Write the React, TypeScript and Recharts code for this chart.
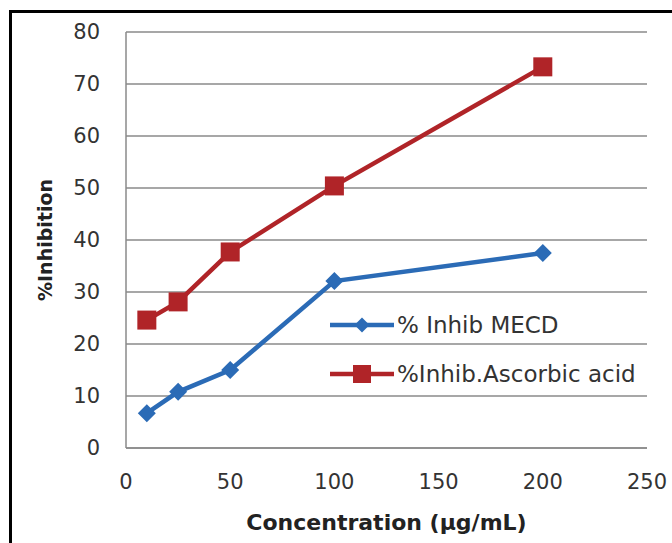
import React from 'react';
import { LineChart, Line, XAxis, YAxis, CartesianGrid, Label } from 'recharts';

const concentrations = [10, 25, 50, 100, 200];
const inhibMECD = [6.7, 10.8, 15.0, 32.1, 37.5];
const inhibAscorbic = [24.6, 28.1, 37.7, 50.4, 73.3];
const xTicks = [0, 50, 100, 150, 200, 250];
const yTicks = [0, 10, 20, 30, 40, 50, 60, 70, 80];

const BLUE = '#2b6bb6';
const RED = '#b02428';
const FONT = '"DejaVu Sans", Verdana, sans-serif';

const data = concentrations.map((c, i) => ({
  conc: c,
  mecd: inhibMECD[i],
  ascorbic: inhibAscorbic[i],
}));

const Diamond = (props: any) => {
  const { cx, cy, fill, r = 9 } = props;
  if (cx == null || cy == null) return null;
  return <polygon points={`${cx},${cy - r} ${cx + r},${cy} ${cx},${cy + r} ${cx - r},${cy}`} fill={fill} />;
};

const Square = (props: any) => {
  const { cx, cy, fill, s = 19 } = props;
  if (cx == null || cy == null) return null;
  return <rect x={cx - s / 2} y={cy - s / 2} width={s} height={s} fill={fill} />;
};

const legendRows = [
  { name: '% Inhib MECD', color: BLUE, marker: 'diamond' },
  { name: '%Inhib.Ascorbic acid', color: RED, marker: 'square' },
];

// legend drawn as an overlay so it does not steal space from the plot
const LegendBox = () => (
  <div style={{ position: 'absolute', left: 330, top: 300, fontFamily: FONT, fontSize: 23, color: '#333' }}>
    {legendRows.map((row) => (
      <div key={row.name} style={{ display: 'flex', alignItems: 'center', height: 49 }}>
        <svg width={64} height={22} style={{ marginRight: 3 }}>
          <line x1={0} y1={11} x2={64} y2={11} stroke={row.color} strokeWidth={4.5} />
          {row.marker === 'diamond' ? (
            <Diamond cx={32} cy={11} r={7.5} fill={row.color} />
          ) : (
            <Square cx={32} cy={11} s={18} fill={row.color} />
          )}
        </svg>
        <span style={{ whiteSpace: 'nowrap' }}>{row.name}</span>
      </div>
    ))}
  </div>
);

export default function App() {
  return (
    <div style={{ position: 'fixed', left: 0, top: 0, width: 672, height: 543, overflow: 'hidden', background: '#fff' }}>
      <div
        style={{
          position: 'absolute',
          left: 9,
          top: 10,
          width: 700,
          height: 600,
          borderLeft: '3px solid #000',
          borderTop: '3px solid #000',
        }}
      />
      <div style={{ position: 'absolute', left: 0, top: 0 }}>
        <LineChart width={672} height={543} data={data} margin={{ top: 32, right: 25, left: 45, bottom: 13 }}>
          <CartesianGrid vertical={false} stroke="#8a8a8a" strokeWidth={1.5} />
          <XAxis
            dataKey="conc"
            type="number"
            domain={[0, 250]}
            ticks={xTicks}
            tickLine={false}
            axisLine={{ stroke: '#8a8a8a', strokeWidth: 1.5 }}
            tick={{ fill: '#333', fontSize: 21, fontFamily: FONT }}
            tickMargin={20}
            height={82}
          >
            <Label
              value="Concentration (µg/mL)"
              position="insideBottom"
              offset={0}
              style={{ fill: '#222', fontSize: 22, fontWeight: 'bold', fontFamily: FONT }}
            />
          </XAxis>
          <YAxis
            type="number"
            domain={[0, 80]}
            ticks={yTicks}
            tickLine={false}
            axisLine={{ stroke: '#8a8a8a', strokeWidth: 1.5 }}
            tick={{ fill: '#333', fontSize: 21, fontFamily: FONT }}
            tickMargin={20}
            width={81}
          >
            <Label
              value="%Inhibition"
              angle={-90}
              position="insideLeft"
              offset={0}
              textAnchor="middle"
              style={{ fill: '#222', fontSize: 19, fontWeight: 'bold', fontFamily: FONT }}
            />
          </YAxis>
          <Line
            dataKey="mecd"
            name="% Inhib MECD"
            stroke={BLUE}
            strokeWidth={4.5}
            dot={(p: any) => <Diamond key={`d-${p.index}`} cx={p.cx} cy={p.cy} fill={BLUE} />}
            activeDot={false}
            isAnimationActive={false}
          />
          <Line
            dataKey="ascorbic"
            name="%Inhib.Ascorbic acid"
            stroke={RED}
            strokeWidth={4.5}
            dot={(p: any) => <Square key={`s-${p.index}`} cx={p.cx} cy={p.cy} fill={RED} />}
            activeDot={false}
            isAnimationActive={false}
          />
        </LineChart>
      </div>
      <LegendBox />
    </div>
  );
}
